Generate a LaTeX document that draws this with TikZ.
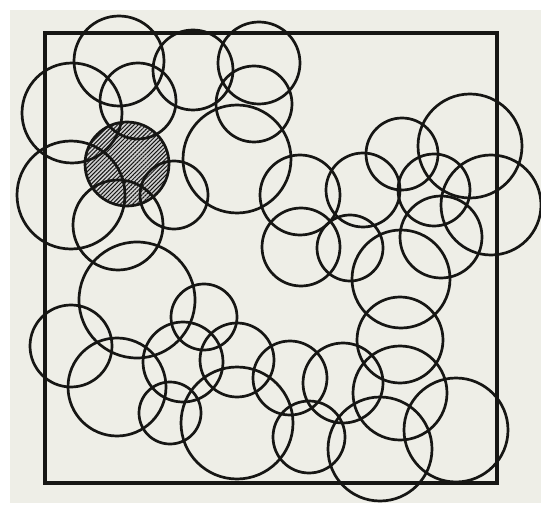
\documentclass[tikz,border=0pt]{standalone}
\usetikzlibrary{patterns.meta}
\definecolor{paper}{RGB}{238,238,231}
\definecolor{ink}{RGB}{22,22,20}

\begin{document}
\begin{tikzpicture}[
  x=1pt, y=-1pt,
  ring/.style={draw=ink, line width=2.7pt},
  frame/.style={draw=ink, line width=3.1pt},
  hatchbase/.style={fill=black!18},
  hatched/.style={pattern={Lines[angle=45, distance=2.9pt, line width=1pt]}, pattern color=ink},
]

% ---------------- page ----------------
\useasboundingbox (0,0) rectangle (541,505);
\fill[white] (0,0) rectangle (541,505);
\fill[paper] (10,10) rectangle (541,503);

% ---------------- shaded disc ----------------
\fill[hatchbase] (127,164) circle (42);
\fill[hatched] (127,164) circle (42);

% ---------------- frame ----------------
\draw[frame] (45,33) rectangle (497,483);

% ---------------- circles: x/y/radius ----------------
\foreach \cx/\cy/\rr in {
  119/61/45, 193/70/40, 259/63/41, 72/113/50, 138/101/38, 254/104/38,
  237/159/54, 127/164/42, 71/195/54, 174/195/34, 118/225/45, 137/300/58,
  402/154/36, 470/146/52, 363/190/37, 300/195/40, 434/190/36, 491/205/50,
  441/237/41, 401/279/49, 350/248/33, 301/247/39,
  400/340/43, 400/393/47, 456/430/52, 380/449/52, 343/383/40, 309/437/36,
  290/378/37, 71/346/41, 117/387/49, 204/317/33, 183/362/40, 170/413/31,
  237/360/37, 237/423/56}
  \draw[ring] (\cx,\cy) circle (\rr);

\end{tikzpicture}
\end{document}
